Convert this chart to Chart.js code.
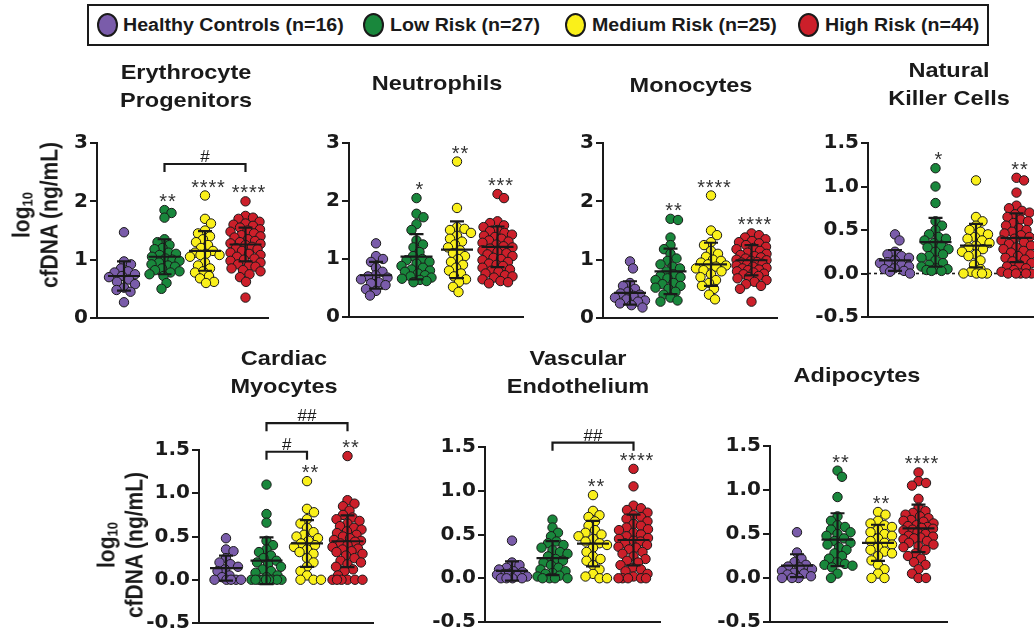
<!DOCTYPE html>
<html><head><meta charset="utf-8">
<script src="https://cdn.jsdelivr.net/npm/chart.js@4.4.1/dist/chart.umd.min.js"></script>
<style>
html,body{margin:0;padding:0;background:#fff;}
#root{position:relative;width:1034px;height:635px;overflow:hidden;background:#fff;font-family:"Liberation Sans",Arial,sans-serif;color:#1a1a1a;}
canvas{position:absolute;}
.title{position:absolute;width:240px;text-align:center;font-weight:bold;font-size:21px;line-height:28px;transform:scaleX(1.12);z-index:2;}
.ylab{position:absolute;width:220px;height:50px;line-height:25px;text-align:center;font-weight:bold;font-size:21px;transform:rotate(-90deg) scaleY(1.1);z-index:2;white-space:nowrap;}
.ylab sub{font-size:13px;line-height:0;vertical-align:-3px;}
#legend{position:absolute;left:87px;top:4px;width:902px;height:42px;border:2px solid #1a1a1a;box-sizing:border-box;}
.ldot{position:absolute;width:21px;height:24px;border-radius:50%;border:2px solid #1a1a1a;box-sizing:border-box;}
.ltxt{position:absolute;font-weight:bold;font-size:18px;line-height:20px;white-space:nowrap;transform:scaleX(1.09);transform-origin:left center;}
</style>
</head><body>
<div id="root"><div id="legend"></div></div>
<script>
// ---------------- DATA ----------------
const groups = ['Healthy Controls (n=16)', 'Low Risk (n=27)', 'Medium Risk (n=25)', 'High Risk (n=44)'];
const panelTitles = [['Erythrocyte','Progenitors'], ['Neutrophils'], ['Monocytes'], ['Natural','Killer Cells'],
                     ['Cardiac','Myocytes'], ['Vascular','Endothelium'], ['Adipocytes']];
const yTicksTop = [0, 1, 2, 3];
const yTicksLow = [-0.5, 0.0, 0.5, 1.0, 1.5];

// Erythrocyte Progenitors
const erythroHC = [1.47,0.97,0.92,0.85,0.80,0.78,0.75,0.72,0.70,0.66,0.62,0.58,0.52,0.48,0.45,0.27];
const erythroLR = [1.85,1.80,1.72,1.35,1.30,1.25,1.20,1.18,1.12,1.10,1.08,1.05,1.02,1.00,0.98,0.95,0.92,0.90,0.88,0.85,0.82,0.80,0.78,0.75,0.72,0.60,0.50];
const erythroMR = [2.10,1.70,1.62,1.50,1.45,1.40,1.35,1.30,1.25,1.20,1.15,1.12,1.08,1.05,1.10,1.08,0.95,0.90,0.85,0.80,0.78,0.72,0.68,0.62,0.60];
const erythroHR = [2.00,1.75,1.72,1.70,1.65,1.62,1.60,1.58,1.55,1.52,1.50,1.48,1.45,1.42,1.40,1.38,1.35,1.32,1.30,1.28,1.27,1.25,1.22,1.20,1.18,1.15,1.12,1.10,1.08,1.05,1.02,1.00,0.98,0.95,0.92,0.90,0.88,0.85,0.82,0.80,0.75,0.70,0.62,0.35];
const erythroMeans = [0.72, 1.05, 1.15, 1.26];
const erythroSDs = [0.25, 0.30, 0.34, 0.29];
const erythroStars = ['', '**', '****', '****'];
const erythroBrackets = [[1, 3, 2.64, '#']];

// Neutrophils
const neutroHC = [1.27,1.05,1.00,0.95,0.85,0.78,0.72,0.70,0.68,0.65,0.60,0.58,0.55,0.48,0.45,0.37];
const neutroLR = [2.05,1.78,1.72,1.60,1.50,1.32,1.25,1.20,1.12,1.05,1.00,0.98,0.95,0.92,0.88,0.85,0.82,0.80,0.78,0.75,0.72,0.70,0.68,0.66,0.64,0.62,0.60];
const neutroMR = [2.68,1.88,1.55,1.52,1.50,1.45,1.40,1.35,1.30,1.25,1.20,1.15,1.10,1.05,1.00,0.95,0.90,0.85,0.80,0.75,0.70,0.65,0.60,0.52,0.43];
const neutroHR = [2.12,2.05,1.65,1.62,1.58,1.55,1.50,1.48,1.45,1.42,1.40,1.38,1.35,1.32,1.30,1.28,1.25,1.22,1.20,1.18,1.15,1.12,1.10,1.08,1.05,1.02,1.00,0.98,0.95,0.92,0.90,0.88,0.85,0.82,0.80,0.78,0.75,0.72,0.70,0.68,0.65,0.62,0.60,0.58];
const neutroMeans = [0.72, 1.04, 1.16, 1.21];
const neutroSDs = [0.23, 0.39, 0.49, 0.35];
const neutroStars = ['', '*', '**', '***'];
const neutroBrackets = [];

// Monocytes
const monoHC = [0.97,0.85,0.60,0.55,0.50,0.45,0.42,0.40,0.38,0.35,0.32,0.30,0.28,0.25,0.22,0.18];
const monoLR = [1.70,1.68,1.38,1.25,1.18,1.10,1.02,0.98,0.92,0.88,0.85,0.80,0.75,0.72,0.70,0.68,0.65,0.60,0.58,0.55,0.52,0.50,0.45,0.40,0.35,0.30,0.28];
const monoMR = [2.10,1.50,1.42,1.30,1.25,1.15,1.10,1.05,1.00,0.98,0.95,0.92,0.90,0.88,0.85,0.82,0.80,0.75,0.70,0.65,0.60,0.55,0.50,0.40,0.32];
const monoHR = [1.45,1.42,1.38,1.35,1.32,1.30,1.28,1.25,1.22,1.20,1.18,1.15,1.12,1.10,1.08,1.06,1.04,1.02,1.00,0.99,0.98,0.96,0.95,0.93,0.92,0.90,0.88,0.86,0.85,0.83,0.82,0.80,0.78,0.76,0.75,0.72,0.70,0.68,0.65,0.62,0.58,0.55,0.50,0.28];
const monoMeans = [0.43, 0.80, 0.92, 0.99];
const monoSDs = [0.20, 0.39, 0.37, 0.26];
const monoStars = ['', '**', '****', '****'];
const monoBrackets = [];

// Natural Killer Cells
const nkHC = [0.45,0.38,0.25,0.22,0.20,0.18,0.15,0.13,0.12,0.10,0.08,0.06,0.05,0.03,0.02,0.00];
const nkLR = [1.21,1.00,0.81,0.60,0.55,0.50,0.45,0.42,0.40,0.38,0.35,0.32,0.30,0.28,0.25,0.22,0.20,0.18,0.15,0.12,0.10,0.08,0.06,0.05,0.04,0.03,0.03];
const nkMR = [1.07,0.65,0.60,0.55,0.50,0.48,0.45,0.42,0.40,0.38,0.35,0.32,0.30,0.28,0.25,0.22,0.20,0.15,0.10,0.05,0.02,0.00,0.00,0.00,0.00];
const nkHR = [1.10,1.07,0.93,0.78,0.75,0.72,0.70,0.68,0.65,0.62,0.60,0.58,0.55,0.52,0.50,0.48,0.46,0.44,0.42,0.40,0.38,0.36,0.34,0.32,0.30,0.28,0.26,0.24,0.22,0.20,0.18,0.16,0.14,0.12,0.10,0.08,0.06,0.04,0.02,0.00,0.00,0.00,0.00,0.00];
const nkMeans = [0.15, 0.36, 0.32, 0.41];
const nkSDs = [0.12, 0.28, 0.25, 0.28];
const nkStars = ['', '*', '', '**'];
const nkBrackets = [];

// Cardiac Myocytes
const cardHC = [0.48,0.35,0.33,0.25,0.20,0.18,0.15,0.12,0.10,0.05,0.03,0.00,0.00,0.00,0.00,0.00];
const cardLR = [1.10,0.76,0.66,0.45,0.40,0.35,0.32,0.28,0.25,0.22,0.20,0.18,0.15,0.12,0.10,0.08,0.05,0.03,0.00,0.00,0.00,0.00,0.00,0.00,0.00,0.00,0.00];
const cardMR = [1.14,0.82,0.78,0.70,0.65,0.60,0.55,0.52,0.50,0.48,0.45,0.42,0.40,0.38,0.35,0.32,0.30,0.25,0.20,0.15,0.10,0.05,0.00,0.00,0.00];
const cardHR = [1.43,0.92,0.88,0.85,0.80,0.75,0.72,0.70,0.68,0.65,0.62,0.60,0.58,0.56,0.54,0.52,0.50,0.48,0.46,0.45,0.44,0.42,0.40,0.38,0.36,0.35,0.33,0.32,0.30,0.28,0.25,0.22,0.20,0.18,0.15,0.12,0.10,0.05,0.00,0.00,0.00,0.00,0.00,0.00];
const cardMeans = [0.135, 0.22, 0.42, 0.445];
const cardSDs = [0.145, 0.27, 0.27, 0.30];
const cardStars = ['', '', '**', '**'];
const cardBrackets = [[1, 3, 1.81, '##'], [1, 2, 1.48, '#']];

// Vascular Endothelium
const vascHC = [0.43,0.18,0.15,0.12,0.10,0.08,0.07,0.05,0.05,0.04,0.03,0.02,0.00,0.00,0.00,0.00];
const vascLR = [0.67,0.58,0.52,0.48,0.42,0.40,0.38,0.35,0.32,0.30,0.28,0.25,0.22,0.20,0.18,0.15,0.12,0.10,0.08,0.06,0.05,0.03,0.02,0.00,0.00,0.00,0.00];
const vascMR = [0.95,0.77,0.72,0.70,0.65,0.60,0.55,0.52,0.50,0.48,0.45,0.42,0.40,0.38,0.35,0.30,0.25,0.22,0.20,0.15,0.10,0.05,0.02,0.00,0.00];
const vascHR = [1.25,1.05,0.83,0.80,0.78,0.75,0.72,0.70,0.68,0.65,0.62,0.60,0.58,0.56,0.55,0.52,0.50,0.48,0.46,0.45,0.43,0.42,0.40,0.38,0.36,0.35,0.33,0.30,0.28,0.25,0.22,0.20,0.18,0.15,0.12,0.10,0.08,0.05,0.02,0.00,0.00,0.00,0.00,0.00];
const vascMeans = [0.084, 0.23, 0.395, 0.437];
const vascSDs = [0.11, 0.195, 0.26, 0.29];
const vascStars = ['', '', '**', '****'];
const vascBrackets = [[1, 3, 1.55, '##']];

// Adipocytes
const adipoHC = [0.52,0.29,0.22,0.18,0.15,0.13,0.12,0.10,0.08,0.06,0.05,0.04,0.02,0.00,0.00,0.00];
const adipoLR = [1.22,1.15,0.92,0.70,0.65,0.60,0.58,0.55,0.52,0.50,0.48,0.45,0.42,0.40,0.38,0.35,0.32,0.28,0.25,0.22,0.18,0.16,0.15,0.14,0.12,0.05,0.00];
const adipoMR = [0.75,0.72,0.65,0.62,0.60,0.58,0.55,0.52,0.50,0.48,0.45,0.42,0.40,0.38,0.35,0.32,0.30,0.28,0.25,0.20,0.15,0.10,0.05,0.00,0.00];
const adipoHR = [1.20,1.10,1.08,1.05,0.90,0.80,0.76,0.74,0.72,0.70,0.68,0.66,0.65,0.64,0.62,0.60,0.59,0.58,0.57,0.56,0.55,0.54,0.52,0.50,0.48,0.47,0.46,0.45,0.44,0.42,0.40,0.38,0.36,0.35,0.32,0.28,0.25,0.22,0.18,0.15,0.10,0.05,0.00,0.00];
const adipoMeans = [0.14, 0.436, 0.40, 0.564];
const adipoSDs = [0.13, 0.30, 0.205, 0.27];
const adipoStars = ['', '**', '**', '****'];
const adipoBrackets = [];

// ---------------- STYLE / LAYOUT ----------------
const groupColors = ['#7a5caa', '#19873c', '#faf01a', '#cc1f2a'];
const INK = '#1a1a1a';
// [axisLeft, axisRight, topPx, bottomPx]
const panelBoxes = [[97,268,142.7,317.7],[349,523,142.7,316.7],[603,777,142.7,317.7],[868,1040,142.7,316.7],
                    [199,373,450,623],[485,660,447.3,622.3],[770,947,446,621.7]];
const titlePos = [[186,58],[437,69],[691,71],[949,56],[284,344],[578,344],[857,361]];
const ylabPos = [[34.5,215],[120,545]];
const legendDotX = [107,373,575,808];
const legendTxtX = [123,390,592,825];

const panels = [
  {vals:[erythroHC,erythroLR,erythroMR,erythroHR], means:erythroMeans, sds:erythroSDs, stars:erythroStars, brackets:erythroBrackets, ticks:yTicksTop, dec:0, zero:false},
  {vals:[neutroHC,neutroLR,neutroMR,neutroHR], means:neutroMeans, sds:neutroSDs, stars:neutroStars, brackets:neutroBrackets, ticks:yTicksTop, dec:0, zero:false},
  {vals:[monoHC,monoLR,monoMR,monoHR], means:monoMeans, sds:monoSDs, stars:monoStars, brackets:monoBrackets, ticks:yTicksTop, dec:0, zero:false},
  {vals:[nkHC,nkLR,nkMR,nkHR], means:nkMeans, sds:nkSDs, stars:nkStars, brackets:nkBrackets, ticks:yTicksLow, dec:1, zero:true},
  {vals:[cardHC,cardLR,cardMR,cardHR], means:cardMeans, sds:cardSDs, stars:cardStars, brackets:cardBrackets, ticks:yTicksLow, dec:1, zero:false},
  {vals:[vascHC,vascLR,vascMR,vascHR], means:vascMeans, sds:vascSDs, stars:vascStars, brackets:vascBrackets, ticks:yTicksLow, dec:1, zero:false},
  {vals:[adipoHC,adipoLR,adipoMR,adipoHR], means:adipoMeans, sds:adipoSDs, stars:adipoStars, brackets:adipoBrackets, ticks:yTicksLow, dec:1, zero:false}
];

const root = document.getElementById('root');

// Legend
const legend = document.getElementById('legend');
groups.forEach((g, i) => {
  const d = document.createElement('div'); d.className = 'ldot';
  d.style.left = (legendDotX[i] - 87 - 2 - 10.5) + 'px'; d.style.top = (25 - 4 - 2 - 12) + 'px';
  d.style.background = groupColors[i]; legend.appendChild(d);
  const t = document.createElement('div'); t.className = 'ltxt'; t.textContent = g;
  t.style.left = (legendTxtX[i] - 87 - 2) + 'px'; t.style.top = (25 - 4 - 2 - 10) + 'px';
  legend.appendChild(t);
});

// Titles
panelTitles.forEach((lines, i) => {
  const d = document.createElement('div'); d.className = 'title';
  d.style.left = (titlePos[i][0] - 120) + 'px'; d.style.top = titlePos[i][1] + 'px';
  d.innerHTML = lines.join('<br>'); root.appendChild(d);
});
// Y labels
ylabPos.forEach(([cx, cy]) => {
  const d = document.createElement('div'); d.className = 'ylab';
  d.style.left = (cx - 110) + 'px'; d.style.top = (cy - 25) + 'px';
  d.innerHTML = 'log<sub>10</sub><br>cfDNA (ng/mL)'; root.appendChild(d);
});

const SPACING = 40.5, FIRST = 27, R = 4.7;

function swarmOffsets(py, minD, maxOff) {
  const n = py.length, off = new Array(n).fill(0), placed = [];
  const order = py.map((v, i) => i).sort((a, b) => py[a] - py[b]);
  let flip = 1;
  for (const i of order) {
    let chosen = null, fb = 0, fbScore = -1;
    for (let k = 0; k <= maxOff && chosen === null; k += 0.5) {
      const cands = k === 0 ? [0] : [k * flip, -k * flip];
      for (const s of cands) {
        let md = Infinity;
        for (const j of placed) {
          const d = Math.hypot(off[j] - s, py[j] - py[i]);
          if (d < md) md = d;
        }
        if (md >= minD) { chosen = s; break; }
        if (md > fbScore) { fbScore = md; fb = s; }
      }
    }
    off[i] = chosen === null ? fb : chosen;
    if (off[i] !== 0) flip = -flip;
    placed.push(i);
  }
  return off;
}

function makePanel(p, box) {
  const [L, Rt, T, B] = box;
  const padL = 70, padT = 72, padR = 6, padB = 24;
  const W = Math.round(Rt - L + padL + padR), H = Math.round(B - T + padT + padB);
  const cv = document.createElement('canvas');
  cv.width = W; cv.height = H; cv.style.width = W + 'px'; cv.style.height = H + 'px';
  cv.style.left = (L - padL) + 'px'; cv.style.top = (T - padT) + 'px';
  root.appendChild(cv);
  const xmin = -FIRST / SPACING, xmax = xmin + (Rt - L) / SPACING;
  const ymin = p.ticks[0], ymax = p.ticks[p.ticks.length - 1];

  const annot = {
    id: 'annot',
    beforeDatasetsDraw(chart) {
      if (!p.zero) return;
      const {ctx, chartArea} = chart; const y = chart.scales.y.getPixelForValue(0);
      ctx.save(); ctx.strokeStyle = INK; ctx.lineWidth = 1.6; ctx.setLineDash([3, 3]);
      ctx.beginPath(); ctx.moveTo(chartArea.left, y); ctx.lineTo(chartArea.right, y); ctx.stroke(); ctx.restore();
    },
    afterDatasetsDraw(chart) {
      const {ctx} = chart; const xs = chart.scales.x, ys = chart.scales.y;
      ctx.save(); ctx.strokeStyle = INK; ctx.lineWidth = 2.2; ctx.lineCap = 'butt';
      p.means.forEach((m, g) => {
        const cx = xs.getPixelForValue(g);
        const ym = ys.getPixelForValue(m), yt = ys.getPixelForValue(m + p.sds[g]), yb = ys.getPixelForValue(Math.max(ymin, m - p.sds[g]));
        ctx.beginPath();
        ctx.moveTo(cx - 16, ym); ctx.lineTo(cx + 16, ym);
        ctx.moveTo(cx, yt); ctx.lineTo(cx, yb);
        ctx.moveTo(cx - 7, yt); ctx.lineTo(cx + 7, yt);
        ctx.moveTo(cx - 7, yb); ctx.lineTo(cx + 7, yb);
        ctx.stroke();
      });
      // stars
      ctx.fillStyle = '#333'; ctx.font = '20px "Liberation Sans", Arial, sans-serif'; ctx.textAlign = 'center'; ctx.textBaseline = 'alphabetic';
      p.stars.forEach((s, g) => {
        if (!s) return;
        const cx = xs.getPixelForValue(g) + 3;
        const y = ys.getPixelForValue(Math.max(...p.vals[g])) - 13;
        const n = s.length, sp = 8.6;
        for (let k = 0; k < n; k++) ctx.fillText('*', cx + (k - (n - 1) / 2) * sp, y + 11);
      });
      // brackets
      ctx.font = '17px "Liberation Sans", Arial, sans-serif'; ctx.fillStyle = INK;
      p.brackets.forEach(([g1, g2, v, lab]) => {
        const x1 = xs.getPixelForValue(g1), x2 = xs.getPixelForValue(g2), y = ys.getPixelForValue(v);
        ctx.beginPath(); ctx.moveTo(x1, y + 8); ctx.lineTo(x1, y); ctx.lineTo(x2, y); ctx.lineTo(x2, y + 8); ctx.stroke();
        ctx.fillText(lab, (x1 + x2) / 2, y - 2);
      });
      ctx.restore();
    }
  };

  const chart = new Chart(cv, {
    type: 'scatter',
    data: {
      datasets: p.vals.map((vals, g) => ({
        label: groups[g],
        data: vals.map(v => ({x: g, y: v})),
        backgroundColor: groupColors[g], borderColor: INK, borderWidth: 1,
        pointRadius: R, pointHoverRadius: R, clip: false
      }))
    },
    options: {
      responsive: false, animation: false, events: [],
      layout: {padding: {left: 0, top: padT, right: padR, bottom: padB}},
      plugins: {legend: {display: false}, title: {display: false}, tooltip: {enabled: false}},
      scales: {
        x: {type: 'linear', min: xmin, max: xmax, grid: {display: false}, ticks: {display: false},
            border: {display: true, color: INK, width: 2}, afterFit: s => { s.height = 0; }},
        y: {type: 'linear', min: ymin, max: ymax,
            afterFit: s => { s.width = padL; },
            afterBuildTicks: s => { s.ticks = p.ticks.map(v => ({value: v})); },
            ticks: {color: INK, padding: 2, font: {family: 'DejaVu Sans', weight: 'bold', size: 20},
                    callback: v => Number(v).toFixed(p.dec)},
            grid: {display: true, drawOnChartArea: false, drawTicks: true, tickLength: 7, color: INK, lineWidth: 2},
            border: {display: true, color: INK, width: 2}}
      }
    },
    plugins: [annot]
  });

  // beeswarm horizontal spread computed from the library's scales
  const xs = chart.scales.x, ys = chart.scales.y;
  p.vals.forEach((vals, g) => {
    const cx = xs.getPixelForValue(g);
    const py = vals.map(v => ys.getPixelForValue(v));
    const offs = swarmOffsets(py, 2 * (R + 0.5) * 0.72, 15);
    chart.data.datasets[g].data = vals.map((v, i) => ({x: xs.getValueForPixel(cx + offs[i]), y: v}));
  });
  chart.update('none');
}

panels.forEach((p, i) => makePanel(p, panelBoxes[i]));
</script>
</body></html>
